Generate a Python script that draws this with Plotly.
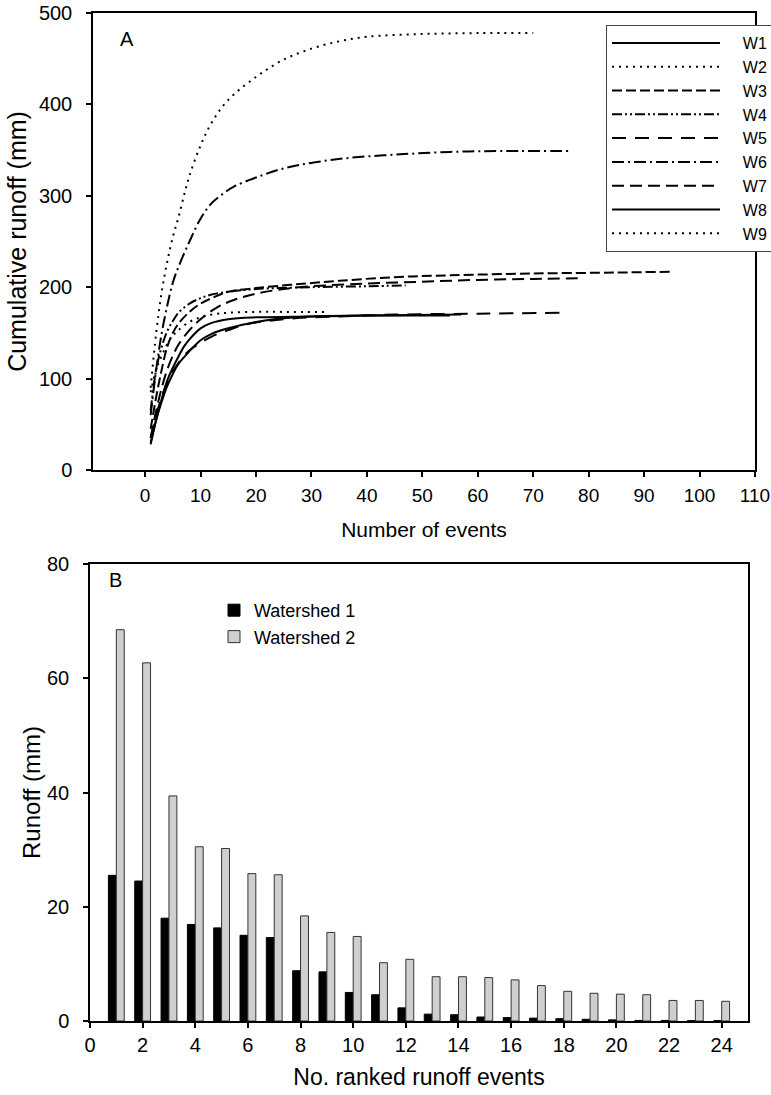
import plotly.graph_objects as go

# ---- Panel A: cumulative runoff curves ----
w1_x = [1, 2, 3, 4, 5, 6, 7, 8, 10, 12, 15, 20, 30, 40, 57]
w1_y = [28, 55, 78, 98, 112, 124, 135, 143, 155, 161, 165, 167, 168, 169, 170]
w2_x = [1, 2, 3, 4, 5, 6, 7, 8, 10, 12, 15, 20, 25, 30, 35, 40, 50, 60, 70]
w2_y = [90, 150, 195, 228, 255, 276, 300, 322, 355, 380, 405, 430, 449, 461, 469, 474, 477, 478, 478]
w3_x = [1, 2, 3, 4, 5, 6, 8, 10, 12, 15, 20, 27, 35, 45, 55, 70, 85, 95]
w3_y = [45, 80, 110, 135, 150, 160, 173, 182, 188, 195, 199, 203, 207, 211, 213, 215, 216, 217]
w4_x = [1, 2, 3, 4, 5, 6, 8, 10, 12, 15, 20, 30, 40, 47]
w4_y = [65, 110, 135, 152, 163, 172, 182, 188, 192, 195, 198, 200, 201, 202]
w5_x = [1, 2, 3, 4, 5, 6, 8, 10, 12, 15, 18, 22, 27, 35, 45, 60, 75]
w5_y = [35, 60, 80, 96, 108, 117, 131, 139, 146, 153, 159, 163, 166, 168, 170, 171, 172]
w6_x = [1, 2, 3, 4, 5, 6, 8, 10, 12, 14, 16, 20, 25, 30, 36, 45, 55, 65, 77]
w6_y = [60, 110, 150, 180, 205, 222, 250, 275, 292, 302, 310, 320, 330, 336, 341, 345, 348, 349, 349]
w7_x = [1, 2, 3, 4, 5, 6, 8, 10, 13, 16, 20, 25, 30, 40, 50, 60, 70, 79]
w7_y = [35, 65, 90, 110, 125, 137, 153, 165, 178, 186, 193, 198, 201, 204, 206, 208, 209, 210]
w8_x = [1, 2, 3, 4, 5, 6, 8, 10, 12, 15, 20, 25, 30, 40, 55]
w8_y = [30, 55, 75, 92, 105, 116, 130, 142, 149, 155, 162, 166, 168, 169, 169]
w9_x = [1, 2, 3, 4, 5, 6, 8, 10, 12, 15, 20, 25, 33]
w9_y = [85, 110, 125, 138, 147, 153, 162, 167, 170, 172, 173, 173, 173]

series_names = ["W1", "W2", "W3", "W4", "W5", "W6", "W7", "W8", "W9"]
series_x = [w1_x, w2_x, w3_x, w4_x, w5_x, w6_x, w7_x, w8_x, w9_x]
series_y = [w1_y, w2_y, w3_y, w4_y, w5_y, w6_y, w7_y, w8_y, w9_y]
dashes = ["solid", "2px,5px", "10px,4px", "10px,3px,2px,3px,2px,3px", "14px,9px",
          "12px,4px,2px,4px", "12px,6px", "solid", "2px,5px"]

# ---- Panel B: ranked runoff events ----
ranks = list(range(1, 25))
watershed1 = [25.5, 24.5, 18.0, 16.9, 16.3, 15.0, 14.6, 8.8, 8.6, 5.0, 4.6, 2.3,
              1.2, 1.1, 0.7, 0.6, 0.5, 0.4, 0.3, 0.2, 0.1, 0.1, 0.05, 0.05]
watershed2 = [68.5, 62.7, 39.4, 30.5, 30.2, 25.8, 25.6, 18.4, 15.5, 14.8, 10.2, 10.8,
              7.75, 7.75, 7.6, 7.2, 6.2, 5.2, 4.85, 4.7, 4.6, 3.6, 3.6, 3.45]

FONT = "Liberation Sans, Arial, sans-serif"
NB = "\u00a0"

fig = go.Figure()
for name, xs, ys, d in zip(series_names, series_x, series_y, dashes):
    fig.add_trace(go.Scatter(x=xs, y=ys, mode="lines", name=NB * 4 + name,
                             line_shape="spline",
                             line=dict(color="black", width=2, dash=d),
                             xaxis="x", yaxis="y", legend="legend"))

fig.add_trace(go.Bar(x=ranks, y=watershed1, name="Watershed 1",
                     marker=dict(color="black", line=dict(color="black", width=1)),
                     xaxis="x2", yaxis="y2", legend="legend2"))
fig.add_trace(go.Bar(x=ranks, y=watershed2, name="Watershed 2",
                     marker=dict(color="#cfcfcf", line=dict(color="#333333", width=1)),
                     xaxis="x2", yaxis="y2", legend="legend2"))

# positions below are in screen pixels (body margin removed via post_script)
W, H = 771, 1095
L, R, T, B = 90, 16, 13, 74
pw, ph = W - L - R, H - T - B
def px(xs):
    return (xs - L) / pw
def py(ys):
    return (H - B - ys) / ph

axis_common = dict(showline=True, linecolor="black", linewidth=1.5, mirror=True,
                   ticks="outside", ticklen=5, tickcolor="black", tickwidth=1.5,
                   showgrid=False, zeroline=False, automargin=False,
                   ticklabeloverflow="allow",
                   tickfont=dict(family=FONT, size=20, color="black"))

fig.update_layout(
    template="none",
    width=W, height=H,
    margin=dict(l=L, r=R, t=T, b=B, pad=0, autoexpand=False),
    plot_bgcolor="white", paper_bgcolor="white",
    font=dict(family=FONT, size=18, color="black"),
    barmode="group", bargap=0.4, bargroupgap=0,
    xaxis=dict(domain=[px(93), 1], anchor="y", range=[-9.4, 110],
               tickvals=list(range(0, 111, 10)), ticklabelstandoff=2,
               title=dict(text="Number of events", standoff=18,
                          font=dict(family=FONT, size=21, color="black")),
               **{**axis_common, "tickfont": dict(family=FONT, size=19, color="black")}),
    yaxis=dict(domain=[py(470), 1], anchor="x", range=[0, 500],
               tickvals=[0, 100, 200, 300, 400, 500], ticklabelstandoff=10,
               title=dict(text="Cumulative runoff (mm)", standoff=5,
                          font=dict(family=FONT, size=25, color="black")), **axis_common),
    xaxis2=dict(domain=[0, px(748)], anchor="y2", range=[0, 25],
                tickvals=list(range(0, 25, 2)), ticklabelstandoff=0,
                title=dict(text="No. ranked runoff events", standoff=14,
                           font=dict(family=FONT, size=23, color="black")), **axis_common),
    yaxis2=dict(domain=[0, py(564)], anchor="x2", range=[0, 80],
                tickvals=[0, 20, 40, 60, 80], ticklabelstandoff=10,
                title=dict(text="Runoff (mm)", standoff=0,
                           font=dict(family=FONT, size=24, color="black")), **axis_common),
    legend=dict(x=px(773), y=py(25), xanchor="right", yanchor="top",
                bordercolor="#444444", borderwidth=1, bgcolor="white",
                font=dict(family=FONT, size=16), itemwidth=108, tracegroupgap=0),
    legend2=dict(x=px(214), y=py(592), xanchor="left", yanchor="top",
                 bgcolor="rgba(0,0,0,0)", borderwidth=0,
                 font=dict(family=FONT, size=18)),
    annotations=[
        dict(text="A", x=px(127), y=py(39), xref="paper", yref="paper",
             xanchor="center", yanchor="middle",
             showarrow=False, font=dict(family=FONT, size=20)),
        dict(text="B", x=px(115), y=py(580), xref="paper", yref="paper",
             xanchor="center", yanchor="middle",
             showarrow=False, font=dict(family=FONT, size=20)),
    ],
)

fig.write_html("out.html", config={"displayModeBar": False},
               post_script="document.body.style.margin='0px';")
